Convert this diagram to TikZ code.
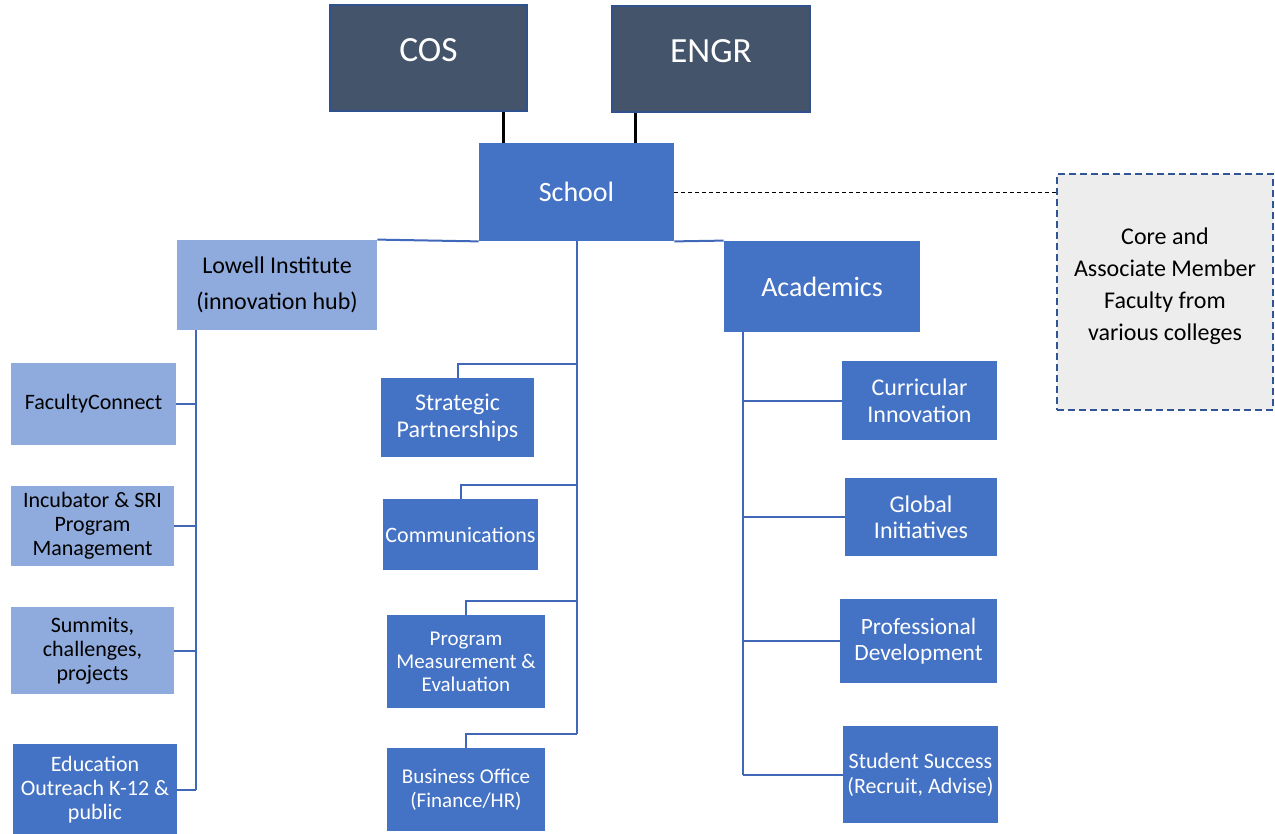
\documentclass[tikz,border=0pt]{standalone}
\usepackage{fontspec}
\setmainfont{Carlito}
\usetikzlibrary{calc}
\definecolor{darkslate}{HTML}{44546A}
\definecolor{darkedge}{HTML}{2F528F}
\definecolor{midblue}{HTML}{4472C4}
\definecolor{lightblue}{HTML}{8FAADC}
\definecolor{connblue}{HTML}{4168B8}
\definecolor{coregray}{HTML}{EDEDED}
\definecolor{coreedge}{HTML}{2F5597}
\tikzset{
  base/.style={rectangle, inner sep=1pt, align=center, draw=none},
  topbox/.style={base, fill=darkslate, draw=darkedge, line width=0.6pt, text=white, font=\fontsize{17.7}{20}\selectfont},
  bluebox/.style={base, fill=midblue, text=white},
  lightbox/.style={base, fill=lightblue, text=black},
  corebox/.style={base, fill=coregray, draw=coreedge, line width=1pt, dash pattern=on 3.5pt off 2pt},
  conn/.style={draw=connblue, line width=1pt},
  blackconn/.style={draw=black, line width=1.5pt},
  dashconn/.style={draw=black, line width=0.4pt, dash pattern=on 2pt off 1.5pt},
  fs/.style 2 args={font=\fontsize{#1}{#2}\selectfont},
}
\begin{document}
\begin{tikzpicture}[x=0.5pt, y=-0.5pt]
\useasboundingbox (0,0) rectangle (1275,834);
% top level
\node[topbox, minimum width=98.5pt, minimum height=53pt] (COS) at (428.5,58) {\raisebox{8pt}{COS}};
\node[topbox, minimum width=99pt, minimum height=53pt] (ENGR) at (711,59) {\raisebox{8pt}{ENGR}};
\node[bluebox, fs={14}{16}, minimum width=97.5pt, minimum height=49pt] (School) at (576.5,192) {School};
% second level
\node[lightbox, fs={12}{18}, minimum width=100pt, minimum height=45pt] (Lowell) at (277,285) {Lowell Institute\\(innovation hub)};
\node[bluebox, fs={14}{16}, minimum width=98pt, minimum height=45.5pt] (Academics) at (822,286.5) {Academics};
% left column
\node[lightbox, fs={11}{12}, minimum width=82.5pt, minimum height=41pt] (Faculty) at (93.5,404) {FacultyConnect};
\node[lightbox, fs={11}{12}, minimum width=81.5pt, minimum height=40pt] (Incubator) at (92.5,526) {Incubator \& SRI\\Program\\Management};
\node[lightbox, fs={11}{12}, minimum width=81.5pt, minimum height=43.5pt] (Summits) at (92.5,650.5) {Summits,\\challenges,\\projects};
\node[bluebox, fs={11}{12}, minimum width=82pt, minimum height=45.5pt] (Education) at (95,789.5) {Education\\Outreach K-12 \&\\public};
% middle column
\node[bluebox, fs={12}{13.5}, minimum width=76.5pt, minimum height=39.5pt] (Strategic) at (457.5,417.5) {Strategic\\Partnerships};
\node[bluebox, fs={11}{12}, minimum width=77.5pt, minimum height=35.5pt] (Comm) at (460.5,534.5) {Communications};
\node[bluebox, fs={10.5}{11.5}, minimum width=79pt, minimum height=46.5pt] (ProgMeas) at (466,661.5) {Program\\Measurement \&\\Evaluation};
\node[bluebox, fs={10.5}{12}, minimum width=79pt, minimum height=41.5pt] (Business) at (466,789.5) {Business Office\\(Finance/HR)};
% right column
\node[bluebox, fs={12}{13.5}, minimum width=77.5pt, minimum height=39.5pt] (Curricular) at (919.5,400.5) {Curricular\\Innovation};
\node[bluebox, fs={12}{13}, minimum width=76pt, minimum height=39pt] (Global) at (921,517) {Global\\Initiatives};
\node[bluebox, fs={11.7}{13}, minimum width=78.5pt, minimum height=42pt] (Professional) at (918.5,641) {Professional\\Development};
\node[bluebox, fs={11}{12.5}, minimum width=77.5pt, minimum height=48.5pt] (Student) at (920.5,774.5) {Student Success\\(Recruit, Advise)};
% core faculty box
\node[corebox, minimum width=108pt, minimum height=118pt,
  label={[fs={12}{16}, align=center, text=black, yshift=3pt]center:{Core and\\Associate Member\\Faculty from\\various colleges}}] (Core) at (1165,292) {};
% connectors: top
\coordinate (s1) at ($(School.north west)!0.128!(School.north east)$);
\coordinate (s2) at ($(School.north west)!0.8!(School.north east)$);
\draw[blackconn] (s1) -- (s1 |- COS.south);
\draw[blackconn] (s2) -- (s2 |- ENGR.south);
\draw[conn] (School.south west) -- (Lowell.north east);
\draw[conn] (School.south east) -- (Academics.north west);
\draw[dashconn] (School.east) -- (School.east -| Core.west);
% middle trunk
\draw[conn] (School.south) -- ([yshift=7pt]Business.north -| School.south);
\foreach \b in {Strategic, Comm, ProgMeas, Business}
  \draw[conn] ([yshift=7pt]\b.north -| School.south) -| (\b.north);
% left trunk
\coordinate (lt) at ([xshift=9.5pt]Lowell.south west);
\draw[conn] (lt) -- (lt |- Education.east);
\foreach \b in {Faculty, Incubator, Summits, Education}
  \draw[conn] (\b.east) -- (\b.east -| lt);
% right trunk
\coordinate (rt) at ([xshift=9.5pt]Academics.south west);
\draw[conn] (rt) -- (rt |- Student.west);
\foreach \b in {Curricular, Global, Professional, Student}
  \draw[conn] (\b.west -| rt) -- (\b.west);
\end{tikzpicture}
\end{document}
